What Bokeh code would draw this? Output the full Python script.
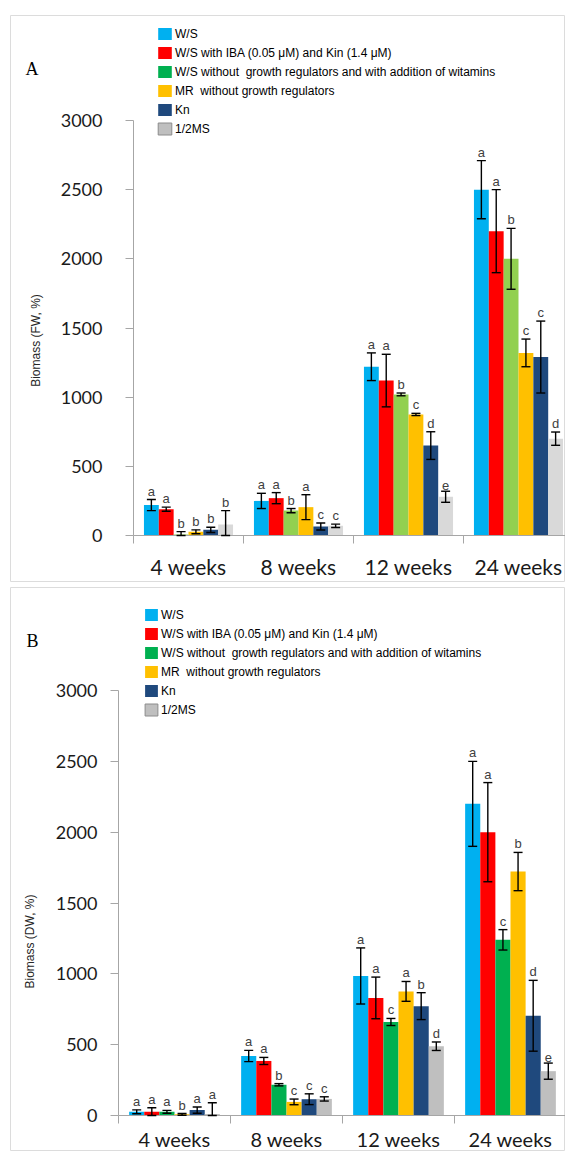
import math
from bokeh.plotting import figure
from bokeh.models import (Range1d, FixedTicker, Legend, LegendItem, Whisker, TeeHead,
                          ColumnDataSource, Label, LinearAxis)
from bokeh.layouts import column
from bokeh.embed import file_html
from bokeh.resources import INLINE
from bokeh.core.properties import value

# ---------------- data ----------------
weeks = ["4 weeks", "8 weeks", "12 weeks", "24 weeks"]
treatments = [
    "W/S",
    "W/S with IBA (0.05 μM) and Kin (1.4 μM)",
    "W/S without  growth regulators and with addition of witamins",
    "MR  without growth regulators",
    "Kn",
    "1/2MS",
]
y_ticks = [0, 500, 1000, 1500, 2000, 2500, 3000]

# Panel A : Biomass (FW, %)
fw_ws = [220, 250, 1220, 2500]
fw_ws_err = [40, 55, 100, 210]
fw_ws_let = ["a", "a", "a", "a"]
fw_iba = [190, 270, 1120, 2200]
fw_iba_err = [15, 40, 190, 300]
fw_iba_let = ["a", "a", "a", "a"]
fw_vit = [8, 180, 1020, 2000]
fw_vit_err = [20, 15, 10, 220]
fw_vit_let = ["b", "b", "b", "b"]
fw_mr = [27, 205, 875, 1320]
fw_mr_err = [14, 90, 8, 100]
fw_mr_let = ["b", "a", "c", "c"]
fw_kn = [41, 65, 650, 1290]
fw_kn_err = [19, 25, 100, 260]
fw_kn_let = ["b", "c", "d", "c"]
fw_ms = [80, 70, 280, 700]
fw_ms_err = [100, 12, 40, 48]
fw_ms_let = ["b", "c", "e", "d"]

# Panel B : Biomass (DW, %)
dw_ws = [26, 420, 985, 2200]
dw_ws_err = [14, 40, 198, 300]
dw_ws_let = ["a", "a", "a", "a"]
dw_iba = [27, 385, 830, 2000]
dw_iba_err = [28, 25, 147, 350]
dw_iba_let = ["a", "a", "a", "a"]
dw_vit = [26, 217, 660, 1240]
dw_vit_err = [10, 8, 25, 72]
dw_vit_let = ["a", "b", "c", "c"]
dw_mr = [8, 96, 876, 1722]
dw_mr_err = [6, 20, 70, 135]
dw_mr_let = ["b", "c", "a", "b"]
dw_kn = [38, 115, 772, 704]
dw_kn_err = [22, 38, 95, 250]
dw_kn_let = ["a", "c", "b", "d"]
dw_ms = [10, 117, 489, 313]
dw_ms_err = [80, 15, 30, 57]
dw_ms_let = ["a", "c", "d", "e"]

legend_colors = ["#00B0F0", "#FF0000", "#00B050", "#FFC000", "#1F497D", "#BFBFBF"]
colors_a = ["#00B0F0", "#FF0000", "#92D050", "#FFC000", "#1F497D", "#D9D9D9"]
colors_b = ["#00B0F0", "#FF0000", "#00B050", "#FFC000", "#1F497D", "#BFBFBF"]

SANS = "Liberation Sans"
AXIS_GREY = "#A6A6A6"


def make_panel(tag, ylabel, vals, errs, lets, colors, width, height, mb, frame, origin,
               cat_px, y_px, tick_standoff, x_standoff, x_font,
               legend_loc, glyph_w, tag_xy, title_xy):
    fx0, fy0, fx1, fy1 = frame
    ox, oy = origin
    x_rng = Range1d((fx0 - ox) / cat_px, (fx1 - ox) / cat_px)
    y_rng = Range1d(-(fy1 - oy) / y_px, (oy - fy0) / y_px)
    p = figure(width=width, height=height, output_backend="svg", toolbar_location=None,
               x_range=x_rng, y_range=y_rng, x_axis_location=None, y_axis_location=None,
               min_border_left=mb[0], min_border_top=mb[1], min_border_right=mb[2],
               min_border_bottom=mb[3])
    p.outline_line_color = "#DCDCDC"
    p.outline_line_width = 1
    p.grid.grid_line_color = None
    p.background_fill_color = "white"
    p.border_fill_color = "white"

    bw = 0.135
    centers = [k + 0.5 for k in range(len(weeks))]
    for i in range(len(treatments)):
        xs = [c + (i - 2.5) * bw for c in centers]
        up = [v + e for v, e in zip(vals[i], errs[i])]
        lo = [max(v - e, 0) for v, e in zip(vals[i], errs[i])]
        src = ColumnDataSource(dict(x=xs, top=vals[i], upper=up, lower=lo, letter=lets[i]))
        p.vbar(x="x", top="top", width=bw, source=src, fill_color=colors[i], line_color=None)
        w = Whisker(source=src, base="x", upper="upper", lower="lower",
                    line_color="black", line_width=1.4, level="overlay",
                    upper_head=TeeHead(size=9, line_width=1.4, line_color="black"),
                    lower_head=TeeHead(size=9, line_width=1.4, line_color="black"))
        p.add_layout(w)
        p.text(x="x", y="upper", text="letter", source=src, text_align="center",
               text_baseline="bottom", y_offset=-1, text_font=value(SANS),
               text_font_size="13px", text_color="#404040")

    # legend swatches: zero-size bars at the origin, shown only in the legend
    items = []
    for i, t in enumerate(treatments):
        r = p.vbar(x=[0], top=[0], width=0, fill_color=legend_colors[i],
                   line_color=("#8C8C8C" if i == 5 else None))
        items.append(LegendItem(label=t, renderers=[r]))
    leg = Legend(items=items, location=legend_loc, glyph_width=glyph_w, glyph_height=15,
                 label_height=15, spacing=4, label_standoff=2, padding=0, margin=0,
                 border_line_color=None, background_fill_alpha=0,
                 label_text_font=SANS, label_text_font_size="12px",
                 label_text_color="#000000")
    p.add_layout(leg)

    # y axis at x = 0
    ya = LinearAxis(fixed_location=0, bounds=(0, 3000))
    ya.ticker = FixedTicker(ticks=y_ticks, minor_ticks=[])
    ya.axis_line_color = AXIS_GREY
    ya.major_tick_line_color = AXIS_GREY
    ya.major_tick_out = 8
    ya.major_tick_in = 0
    ya.major_label_standoff = tick_standoff
    ya.major_label_text_font = "Lato"
    ya.major_label_text_font_size = "18px"
    ya.major_label_text_color = "#1A1A1A"
    p.add_layout(ya, "left")

    # x axis at y = 0
    xa = LinearAxis(fixed_location=0, bounds=(0, x_rng.end))
    xa.ticker = FixedTicker(ticks=centers, minor_ticks=list(range(len(weeks) + 1)))
    xa.major_label_overrides = {c: w for c, w in zip(centers, weeks)}
    xa.axis_line_color = AXIS_GREY
    xa.major_tick_line_color = None
    xa.major_tick_out = 8
    xa.major_tick_in = 0
    xa.minor_tick_line_color = AXIS_GREY
    xa.minor_tick_out = 8
    xa.minor_tick_in = 0
    xa.major_label_standoff = x_standoff
    xa.major_label_text_font = "Lato"
    xa.major_label_text_font_size = x_font
    xa.major_label_text_color = "#1A1A1A"
    p.add_layout(xa, "below")

    # y axis title (rotated)
    p.add_layout(Label(x=title_xy[0], y=title_xy[1], x_units="screen", y_units="screen",
                       text=ylabel, angle=math.pi / 2, text_align="center",
                       text_baseline="middle", text_font=SANS, text_font_size="12px",
                       text_color="#262626"))
    # panel tag
    p.add_layout(Label(x=tag_xy[0], y=tag_xy[1], x_units="screen", y_units="screen",
                       text=tag, text_font="Liberation Serif", text_font_size="18px",
                       text_color="black", text_baseline="alphabetic"))
    return p


pA = make_panel("A", "Biomass (FW, %)",
                [fw_ws, fw_iba, fw_vit, fw_mr, fw_kn, fw_ms],
                [fw_ws_err, fw_iba_err, fw_vit_err, fw_mr_err, fw_kn_err, fw_ms_err],
                [fw_ws_let, fw_iba_let, fw_vit_let, fw_mr_let, fw_kn_let, fw_ms_let],
                colors_a, width=565, height=583, mb=(10, 15, 0, 2),
                frame=(10, 15, 565, 581), origin=(133, 535), cat_px=110, y_px=415 / 3000,
                tick_standoff=23, x_standoff=10, x_font="21px",
                legend_loc=(146, 445), glyph_w=17, tag_xy=(15, 513), title_xy=(25, 241))

pB = make_panel("B", "Biomass (DW, %)",
                [dw_ws, dw_iba, dw_vit, dw_mr, dw_kn, dw_ms],
                [dw_ws_err, dw_iba_err, dw_vit_err, dw_mr_err, dw_kn_err, dw_ms_err],
                [dw_ws_let, dw_iba_let, dw_vit_let, dw_mr_let, dw_kn_let, dw_ms_let],
                colors_b, width=565, height=568, mb=(10, 4, 0, 0),
                frame=(10, 587, 565, 1151), origin=(118, 1115), cat_px=112, y_px=425 / 3000,
                tick_standoff=13, x_standoff=3, x_font="20px",
                legend_loc=(133, 434), glyph_w=16, tag_xy=(16, 511), title_xy=(19, 210))

layout = column(pA, pB, spacing=0)

open("out.html", "w").write(file_html(layout, INLINE))
